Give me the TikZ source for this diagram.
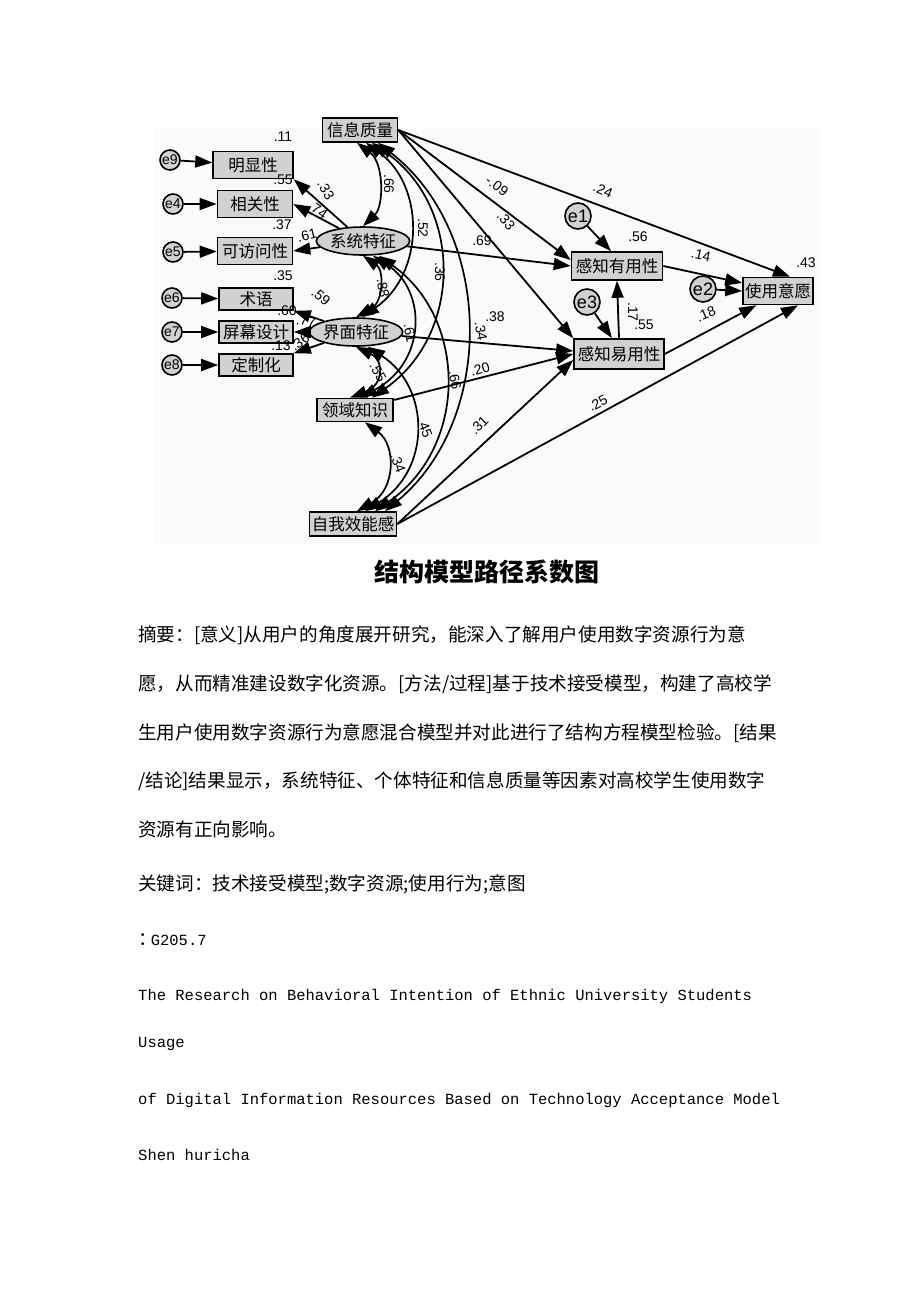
\documentclass[tikz,border=0pt]{standalone}
\usepackage{fontspec}
\setmainfont{Liberation Sans}
\newfontfamily\cjk{Noto Sans CJK SC}
\newfontfamily\mono{Liberation Mono}
\usetikzlibrary{arrows.meta,shapes.geometric,calc}

\begin{document}
\begin{tikzpicture}[x=1pt,y=-1pt,
  obs/.style={draw,line width=1.6pt,fill=black!18,inner sep=0pt,font=\cjk\fontsize{16.5}{16.5}\selectfont},
  lat/.style={ellipse,draw,line width=1.6pt,fill=black!18,inner sep=0pt,minimum width=74pt,minimum height=28pt,font=\cjk\fontsize{16.5}{16.5}\selectfont},
  err/.style={circle,draw,line width=1.6pt,fill=black!18,inner sep=0pt,minimum size=20pt,font=\fontsize{14}{14}\selectfont},
  errb/.style={err,minimum size=26pt,font=\fontsize{18}{18}\selectfont},
  arr/.style={-{Triangle[length=17pt,width=12pt]},line width=1.8pt},
  cov/.style={{Triangle[length=17pt,width=12pt]}-{Triangle[length=17pt,width=12pt]},line width=1.7pt},
  num/.style={font=\fontsize{14}{14}\selectfont,inner sep=0pt},
  txt/.style={anchor=west,inner sep=0pt,font=\cjk\fontsize{18.6}{18.6}\selectfont},
  eng/.style={anchor=west,inner sep=0pt,font=\mono\fontsize{15.5}{15.5}\selectfont}]
\fill[white] (0,0) rectangle (920,1302);
\useasboundingbox (0,0) rectangle (920,1302);
\fill[black!2] (155,127) rectangle (820,545);

\node[obs,minimum width=75pt,minimum height=24pt] (xx) at (360,130) {信息质量};
\node[obs,minimum width=80pt,minimum height=27pt] (mx) at (253,165) {明显性};
\node[obs,minimum width=75pt,minimum height=27pt] (xg) at (255,204) {相关性};
\node[obs,minimum width=75pt,minimum height=27pt] (fw) at (255,251) {可访问性};
\node[obs,minimum width=74pt,minimum height=22pt] (sy) at (256,299) {术语};
\node[obs,minimum width=74pt,minimum height=22pt] (pm) at (256,332) {屏幕设计};
\node[obs,minimum width=74pt,minimum height=22pt] (dz) at (256,365) {定制化};
\node[lat] (xt) at (363,241) {系统特征};
\node[lat] (jm) at (356,332) {界面特征};
\node[obs,minimum width=76pt,minimum height=23pt] (ly) at (355,410) {领域知识};
\node[obs,minimum width=87pt,minimum height=24pt] (zw) at (353,524) {自我效能感};
\node[obs,minimum width=91pt,minimum height=28pt] (yy) at (617,266) {感知有用性};
\node[obs,minimum width=90pt,minimum height=30pt] (ys) at (619,354) {感知易用性};
\node[obs,minimum width=70pt,minimum height=27pt] (yh) at (778,291) {使用意愿};

\node[err] (e9) at (170,160) {e9};
\node[err] (e4) at (173,204) {e4};
\node[err] (e5) at (173,252) {e5};
\node[err] (e6) at (172,298) {e6};
\node[err] (e7) at (172,332) {e7};
\node[err] (e8) at (172,365) {e8};
\node[errb] (e1) at (578,216) {e1};
\node[errb] (e3) at (587,302) {e3};
\node[errb] (e2) at (703,289) {e2};

\foreach \e/\v in {e9/mx,e4/xg,e5/fw,e6/sy,e7/pm,e8/dz}
  \draw[arr] (\e) -- (\v);
\draw[arr] (xt) -- (mx.south east);
\draw[arr] (xt) -- (xg.east);
\draw[arr] (xt) -- (fw.east);
\draw[arr] (jm) -- (sy.south east);
\draw[arr] (jm) -- (pm.east);
\draw[arr] (jm) -- (dz.north east);

\draw[arr] (xx.east) -- ($(yy.west)+(0,-6)$);
\draw[arr] (xx.east) -- ($(yh.north)+(12,0)$);
\draw[arr] (xx.east) -- (ys.north west);
\draw[arr] (xt) -- (yy.west);
\draw[arr] (jm) -- ($(ys.west)+(0,-3)$);
\draw[arr] (ly) -- (ys.west);
\draw[arr] (zw.east) -- ($(ys.west)+(0,6)$);
\draw[arr] (zw.east) -- ($(yh.south)+(20,0)$);
\draw[arr] (ys.north) -- (yy.south);
\draw[arr] (yy.east) -- ($(yh.west)+(0,-8)$);
\draw[arr] (ys.east) -- ($(yh.south west)+(14,0)$);
\draw[arr] (e1) -- ($(yy.north)+(-6,0)$);
\draw[arr] (e3) -- ($(ys.north)+(-7,0)$);
\draw[arr] (e2) -- (yh.west);

\draw[cov] ($(xx.south)+(-3,0)$) .. controls (384,163) and (384,206) .. (xt.north);
\draw[cov] ($(xx.south)+(6,0)$) .. controls (425,186) and (425,273) .. ($(jm.north)+(6,0)$);
\draw[cov] ($(xx.south)+(12,0)$) .. controls (463,206) and (463,334) .. ($(ly.north)+(17,0)$);
\draw[cov] ($(xx.south)+(18,0)$) .. controls (495,234) and (495,420) .. ($(zw.north)+(32,0)$);
\draw[cov] (xt.south) .. controls (384,270) and (384,302) .. (jm.north);
\draw[cov] ($(xt.south)+(10,0)$) .. controls (427,290) and (427,362) .. ($(ly.north)+(5,0)$);
\draw[cov] ($(xt.south)+(16,0)$) .. controls (468,319) and (468,447) .. ($(zw.north)+(22,0)$);
\draw[cov] (jm.south) .. controls (384,360) and (384,385) .. ($(ly.north)+(-5,0)$);
\draw[cov] ($(jm.south)+(12,0)$) .. controls (431,388) and (431,470) .. ($(zw.north)+(12,0)$);
\draw[cov] ($(ly.south)+(10,0)$) .. controls (396,445) and (396,489) .. ($(zw.north)+(4,0)$);

\node[num] (r1) at (283,137) {.11};
\node[num] (r2) at (283,180) {.55};
\node[num] (r3) at (282,225) {.37};
\node[num] (r4) at (283,276) {.35};
\node[num] (r5) at (287,311) {.60};
\node[num] (r6) at (281,346) {.13};
\node[num,rotate=-60] (l1) at (326,190) {.33};
\node[num,rotate=-35] (l2) at (318,210) {.74};
\node[num,rotate=14] (l3) at (307,235) {.61};
\node[num,rotate=-40] (l4) at (321,297) {.59};
\node[num,rotate=-10] (l5) at (306,321) {.77};
\node[num,rotate=35] (l6) at (300,342) {.36};

\node[num,rotate=-90] (c1) at (389,184) {.66};
\node[num,rotate=-80] (c2) at (383,288) {.88};
\node[num,rotate=-60] (c3) at (378,372) {.55};
\node[num,rotate=-70] (c4) at (398,463) {.34};
\node[num,rotate=-90] (c5) at (423,228) {.52};
\node[num,rotate=-90] (c6) at (440,272) {.36};
\node[num,rotate=-80] (c7) at (455,380) {.66};
\node[num,rotate=-70] (c8) at (425,428) {.45};
\node[num,rotate=-80] (c9) at (410,333) {.61};

\node[num,rotate=-37] (p1) at (497,186) {-.09};
\node[num,rotate=-24] (p2) at (603,190) {.24};
\node[num,rotate=-50] (p3) at (506,221) {.33};
\node[num] (p4) at (482,241) {.69};
\node[num,rotate=-80] (p5) at (481,331) {.34};
\node[num] (p6) at (495,317) {.38};
\node[num,rotate=17] (p7) at (480,369) {.20};
\node[num,rotate=45] (p8) at (479,425) {.31};
\node[num,rotate=28] (p9) at (598,403) {.25};
\node[num,rotate=-12] (p10) at (701,255) {.14};
\node[num,rotate=22] (p11) at (706,314) {.18};
\node[num,rotate=-90] (p12) at (633,312) {.17};
\node[num] (r7) at (638,237) {.56};
\node[num] (r8) at (644,325) {.55};
\node[num] (r9) at (806,263) {.43};

\node[inner sep=0pt,font=\cjk\bfseries\fontsize{25}{25}\selectfont] (cap) at (487,572) {结构模型路径系数图};
\node[txt] (t1) at (138,635) {摘要：[意义]从用户的角度展开研究，能深入了解用户使用数字资源行为意};
\node[txt] (t2) at (138,684) {愿，从而精准建设数字化资源。[方法/过程]基于技术接受模型，构建了高校学};
\node[txt] (t3) at (138,733) {生用户使用数字资源行为意愿混合模型并对此进行了结构方程模型检验。[结果};
\node[txt] (t4) at (138,781) {/结论]结果显示，系统特征、个体特征和信息质量等因素对高校学生使用数字};
\node[txt] (t5) at (138,829) {资源有正向影响。};
\node[txt] (t6) at (138,884) {关键词：技术接受模型;数字资源;使用行为;意图};
\node[txt] (t7) at (138,940) {：\kern-6pt{\mono\fontsize{15.5}{15.5}\selectfont G205.7}};
\node[eng] (t8) at (138,996) {The Research on Behavioral Intention of Ethnic University Students};
\node[eng] (t9) at (138,1044) {Usage};
\node[eng] (t10) at (138,1100) {of Digital Information Resources Based on Technology Acceptance Model};
\node[eng] (t11) at (138,1155) {Shen huricha};
\end{tikzpicture}
\end{document}
